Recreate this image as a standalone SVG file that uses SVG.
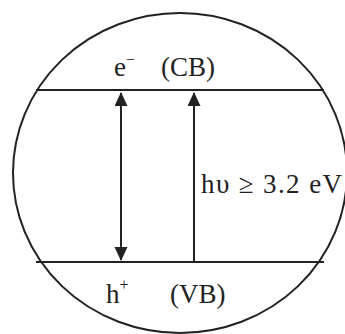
<svg xmlns="http://www.w3.org/2000/svg" width="345" height="334" viewBox="0 0 345 334">
<style>
.ln{stroke:#222;stroke-width:2;fill:none}
.t{font-family:"Liberation Serif","Times New Roman",serif;fill:#222;font-size:27px}
.sup{font-size:16px}
</style>
<defs>
<marker id="ah" markerWidth="14" markerHeight="14" refX="13" refY="6.5" orient="auto" markerUnits="userSpaceOnUse">
<path d="M0,0 L14,6.5 L0,13 Z" fill="#222"/>
</marker>
</defs>
<rect width="345" height="334" fill="#fff"/>
<g id="particle">
<ellipse class="ln" cx="180" cy="173" rx="167" ry="160"/>
</g>
<g id="cb">
<line class="ln" x1="36" y1="90" x2="324" y2="90"/>
<text class="t" x="114" y="76">e<tspan class="sup" dy="-11">−</tspan><tspan dy="11" x="161">(CB)</tspan></text>
</g>
<g id="vb">
<line class="ln" x1="36" y1="262" x2="324" y2="262"/>
<text class="t" x="106" y="303">h<tspan class="sup" dy="-13">+</tspan><tspan dy="13" x="170">(VB)</tspan></text>
</g>
<g id="connectors">
<line class="ln" x1="121" y1="176" x2="121" y2="93" marker-end="url(#ah)"/>
<line class="ln" x1="121" y1="176" x2="121" y2="260" marker-end="url(#ah)"/>
<line class="ln" x1="194" y1="262" x2="194" y2="93" marker-end="url(#ah)"/>
</g>
<g id="label">
<text class="t" x="201" y="193" textLength="141" lengthAdjust="spacing">hυ ≥ 3.2 eV</text>
</g>
</svg>
